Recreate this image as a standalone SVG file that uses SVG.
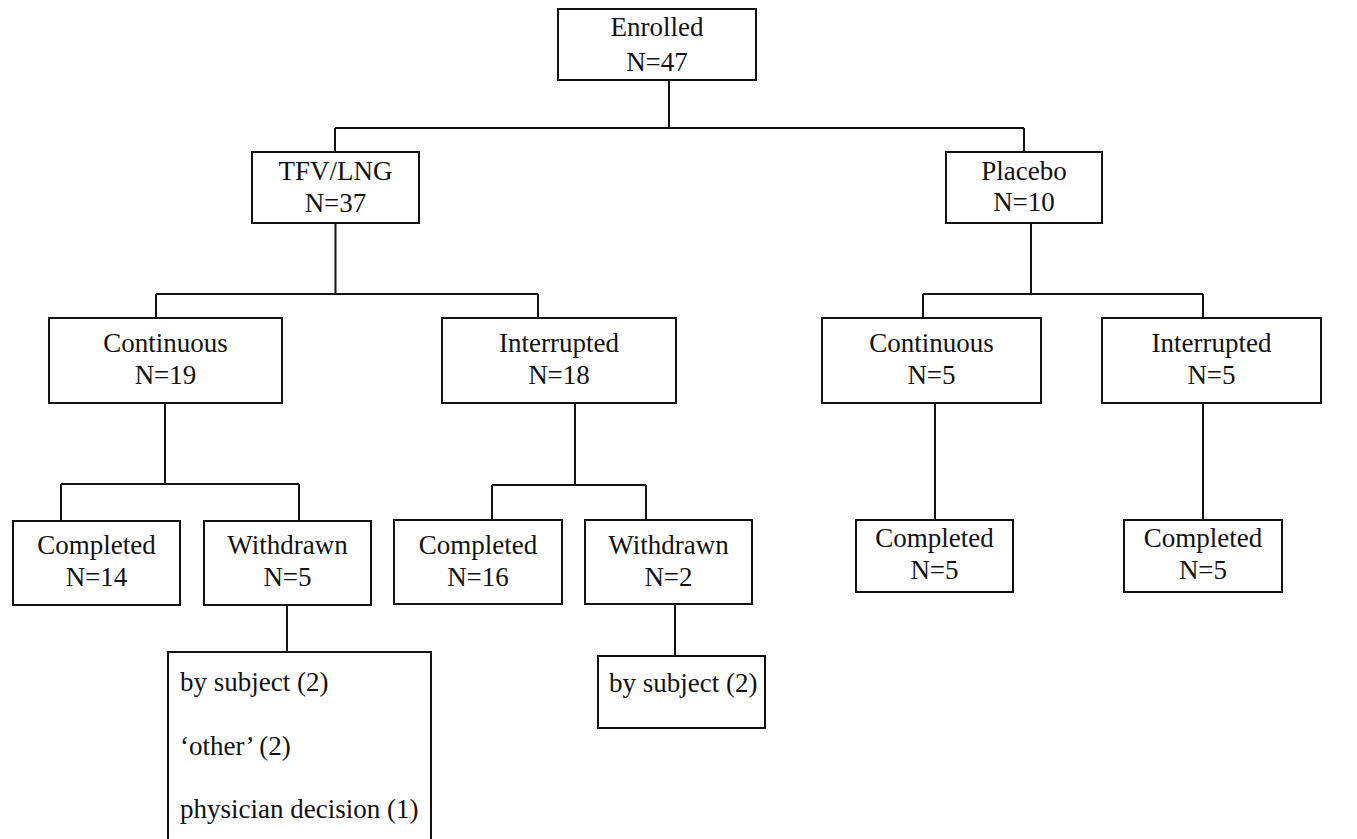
<svg xmlns="http://www.w3.org/2000/svg" width="1357" height="839" viewBox="0 0 1357 839">
<style>
.box{fill:#fff;stroke:#111;stroke-width:2}
.ln{fill:none;stroke:#111;stroke-width:2}
text{font-family:"Liberation Serif","Times New Roman",serif;font-size:27px;fill:#111}
.c{text-anchor:middle}
</style>
<rect width="1357" height="839" fill="#fff"/>
<g id="connectors">
<path class="ln" d="M669 80V128M335 128H1024M335 128V152M1024 128V152"/>
<path class="ln" d="M335.5 223V294M156 294H538M156 294V318M538 294V318"/>
<path class="ln" d="M1031 223V294M923 294H1203M923 294V318M1203 294V318"/>
<path class="ln" d="M165 403V484M61 484H299M61 484V521M299 484V521"/>
<path class="ln" d="M575 403V485M492 485H646M492 485V520M646 485V520"/>
<path class="ln" d="M287 605V652M675 604V656"/>
<path class="ln" d="M935 403V520M1203 403V520"/>
</g>
<g id="enrolled"><rect class="box" x="558" y="9" width="198" height="71"/><text class="c" x="657" y="36">Enrolled</text><text class="c" x="657" y="71">N=47</text></g>
<g id="tfv"><rect class="box" x="252" y="152" width="167" height="71"/><text class="c" x="335.5" y="180">TFV/LNG</text><text class="c" x="335.5" y="212">N=37</text></g>
<g id="placebo"><rect class="box" x="946" y="152" width="156" height="71"/><text class="c" x="1024" y="180">Placebo</text><text class="c" x="1024" y="211">N=10</text></g>
<g id="tfv-cont"><rect class="box" x="49" y="318" width="233" height="85"/><text class="c" x="165.5" y="352">Continuous</text><text class="c" x="165.5" y="384">N=19</text></g>
<g id="tfv-int"><rect class="box" x="442" y="318" width="234" height="85"/><text class="c" x="559" y="352">Interrupted</text><text class="c" x="559" y="384">N=18</text></g>
<g id="pl-cont"><rect class="box" x="822" y="318" width="219" height="85"/><text class="c" x="931.5" y="352">Continuous</text><text class="c" x="931.5" y="384">N=5</text></g>
<g id="pl-int"><rect class="box" x="1102" y="318" width="219" height="85"/><text class="c" x="1211.5" y="352">Interrupted</text><text class="c" x="1211.5" y="384">N=5</text></g>
<g id="tc-comp"><rect class="box" x="13" y="521" width="167" height="84"/><text class="c" x="96.5" y="554">Completed</text><text class="c" x="96.5" y="586">N=14</text></g>
<g id="tc-wd"><rect class="box" x="204" y="521" width="167" height="84"/><text class="c" x="287.5" y="554">Withdrawn</text><text class="c" x="287.5" y="586">N=5</text></g>
<g id="ti-comp"><rect class="box" x="394" y="520" width="168" height="84"/><text class="c" x="478" y="554">Completed</text><text class="c" x="478" y="586">N=16</text></g>
<g id="ti-wd"><rect class="box" x="585" y="520" width="167" height="84"/><text class="c" x="668.5" y="554">Withdrawn</text><text class="c" x="668.5" y="586">N=2</text></g>
<g id="tc-reasons"><rect class="box" x="168" y="652" width="263" height="200"/><text x="180" y="691">by subject (2)</text><text x="180" y="755">‘other’ (2)</text><text x="180" y="818">physician decision (1)</text></g>
<g id="ti-reasons"><rect class="box" x="598" y="656" width="167" height="72"/><text x="609" y="692">by subject (2)</text></g>
<g id="pc-comp"><rect class="box" x="856" y="520" width="157" height="72"/><text class="c" x="934.5" y="547">Completed</text><text class="c" x="934.5" y="579">N=5</text></g>
<g id="pi-comp"><rect class="box" x="1124" y="520" width="158" height="72"/><text class="c" x="1203" y="547">Completed</text><text class="c" x="1203" y="579">N=5</text></g>
</svg>
